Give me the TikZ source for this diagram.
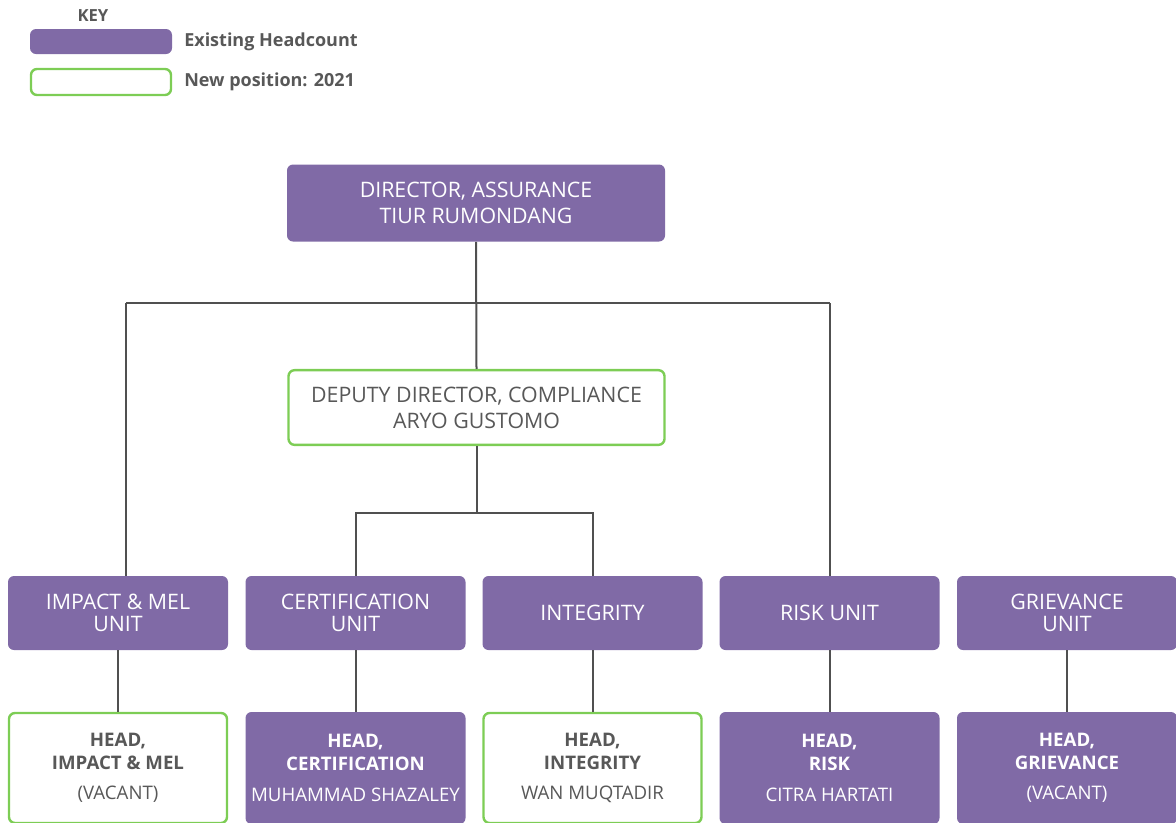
\documentclass[tikz,border=0pt]{standalone}
\usepackage{fontspec}
\setmainfont{Open Sans}
\usetikzlibrary{positioning}

\definecolor{staffpurple}{RGB}{128,106,166}
\definecolor{newgreen}{RGB}{125,205,85}
\definecolor{txtgray}{RGB}{88,88,88}
\definecolor{linkgray}{RGB}{80,80,80}

\tikzset{
  existing/.style={fill=staffpurple, rounded corners=4.5pt, text=white, align=center, inner sep=0pt},
  newpos/.style={draw=newgreen, line width=1.8pt, fill=white, rounded corners=4.5pt, text=txtgray, align=center, inner sep=0pt},
  topbox/.style={minimum width=283.5pt, minimum height=57.75pt, font=\fontsize{16}{19.5}\selectfont},
  unitbox/.style={minimum width=165pt, minimum height=55.5pt, font=\fontsize{16}{16.5}\selectfont},
  headbox/.style={minimum width=165pt, minimum height=84pt, font=\fontsize{14}{17}\selectfont},
  keytext/.style={anchor=west, inner sep=0pt, text=txtgray, font=\fontsize{13.5}{15}\selectfont\bfseries},
  link/.style={draw=linkgray, line width=1.5pt},
}

\begin{document}
\begin{tikzpicture}[x=0.75pt,y=0.75pt,yscale=-1,xscale=1]
\useasboundingbox (0,0) rectangle (1176,822);
\clip (0,0) rectangle (1176,822);

% key
\node [text=txtgray, font=\fontsize{12.5}{15}\selectfont\bfseries] (keyhead) at (93,16) {KEY};
\node [existing, minimum width=106.5pt, minimum height=18.75pt] (keyold) at (101,41.5) {};
\node [newpos, minimum width=105pt, minimum height=19.5pt] (keynew) at (101,82) {};
\node [keytext] (keyoldtxt) at (184,42) {Existing Headcount};
\node [keytext] (keynewtxt) at (184,82) {New position: 2021};

% director and deputy
\node [existing, topbox] (dir) at (476,203) {DIRECTOR, ASSURANCE\\TIUR RUMONDANG};
\node [newpos, topbox, minimum width=282pt, minimum height=56pt] (dep) at (476.5,407.5) {DEPUTY DIRECTOR, COMPLIANCE\\ARYO GUSTOMO};

% units
\node [existing, unitbox] (imp) at (118,613) {IMPACT \& MEL\\UNIT};
\node [existing, unitbox] (cert) at (355.5,613) {CERTIFICATION\\UNIT};
\node [existing, unitbox] (integ) at (592.5,613) {INTEGRITY};
\node [existing, unitbox] (risk) at (829.5,613) {RISK UNIT};
\node [existing, unitbox] (griev) at (1067,613) {GRIEVANCE\\UNIT};

% heads
\node [newpos, headbox, minimum width=163.5pt, minimum height=82.5pt] (himp) at (118,768) {\textbf{HEAD,}\\\textbf{IMPACT \& MEL}\\[6pt](VACANT)};
\node [existing, headbox] (hcert) at (355.5,768) {\textbf{HEAD,}\\\textbf{CERTIFICATION}\\[6pt]MUHAMMAD SHAZALEY};
\node [newpos, headbox, minimum width=163.5pt, minimum height=82.5pt] (hinteg) at (592.5,768) {\textbf{HEAD,}\\\textbf{INTEGRITY}\\[6pt]WAN MUQTADIR};
\node [existing, headbox] (hrisk) at (829.5,768) {\textbf{HEAD,}\\\textbf{RISK}\\[6pt]CITRA HARTATI};
\node [existing, headbox] (hgriev) at (1067,768) {\textbf{HEAD,}\\\textbf{GRIEVANCE}\\[6pt](VACANT)};

% connectors
\coordinate (busL) at (126,303);
\coordinate (busR) at (829.5,303);
\coordinate (split) at (476.5,513);
\draw [link] (dir.south) -- (dep.north);
\draw [link] (busL) -- (busR);
\draw [link] (busL) -- (busL |- imp.north);
\draw [link] (busR) -- (risk);
\draw [link] (dep) -- (split);
\draw [link] (cert) |- (split) -| (integ);
\draw [link] (imp) -- (himp);
\draw [link] (cert) -- (hcert);
\draw [link] (integ) -- (hinteg);
\draw [link] (risk) -- (hrisk);
\draw [link] (griev) -- (hgriev);

\end{tikzpicture}
\end{document}
